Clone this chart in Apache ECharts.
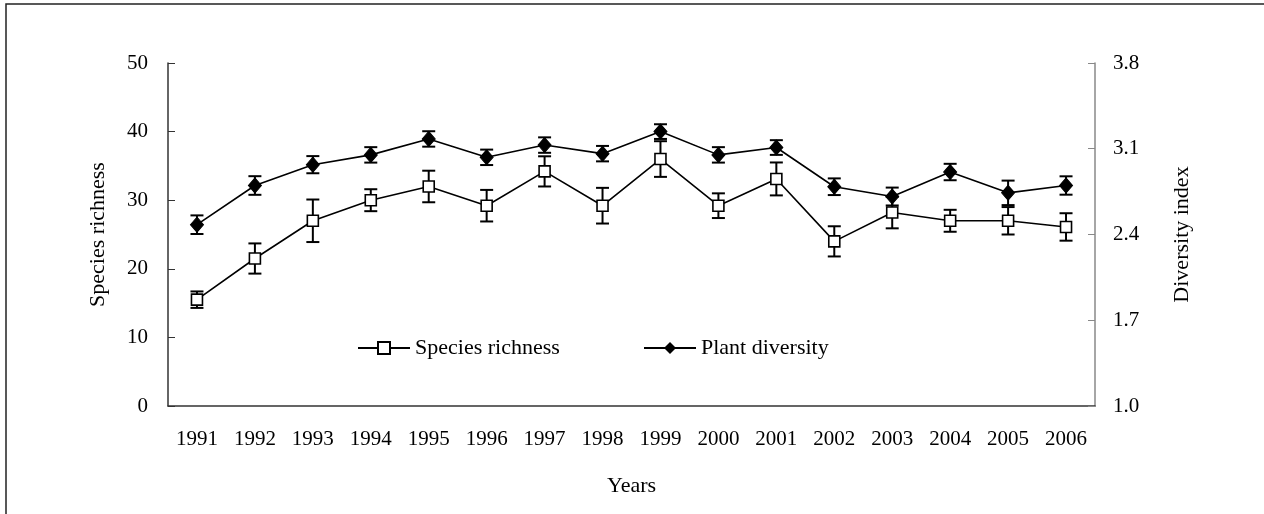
<!DOCTYPE html>
<html>
<head>
<meta charset="utf-8">
<script src="https://cdn.jsdelivr.net/npm/echarts@6/dist/echarts.min.js"></script>
<style>
  html, body { margin: 0; padding: 0; background: #fff; }
  #main { width: 1264px; height: 514px; }
</style>
</head>
<body>
<div id="main"></div>
<script>
var years = ['1991', '1992', '1993', '1994', '1995', '1996', '1997', '1998',
    '1999', '2000', '2001', '2002', '2003', '2004', '2005', '2006'];
var richness = [15.5, 21.5, 27.0, 30.0, 32.0, 29.2, 34.2, 29.2, 36.0, 29.2, 33.1, 24.0, 28.2, 27.0, 27.0, 26.1];
var richnessErr = [1.2, 2.2, 3.1, 1.6, 2.3, 2.3, 2.2, 2.6, 2.6, 1.8, 2.4, 2.2, 2.3, 1.6, 2.0, 2.0];
var diversity = [2.48, 2.80, 2.97, 3.05, 3.18, 3.03, 3.13, 3.06, 3.24, 3.05, 3.11, 2.79, 2.71, 2.91, 2.74, 2.80];
var diversityErr = [0.076, 0.076, 0.07, 0.063, 0.063, 0.063, 0.063, 0.063, 0.06, 0.063, 0.06, 0.068, 0.073, 0.067, 0.1, 0.075];

var font = "'Liberation Serif', 'Times New Roman', serif";

function errData(vals, errs) {
    return vals.map(function (v, i) {
        return [i, v - errs[i], v + errs[i]];
    });
}

function renderErr(params, api) {
    var x = api.value(0);
    var lo = api.coord([x, api.value(1)]);
    var hi = api.coord([x, api.value(2)]);
    var w = 6.5;
    var st = { stroke: '#000', lineWidth: 2 };
    return {
        type: 'group',
        children: [
            { type: 'line', shape: { x1: lo[0], y1: lo[1], x2: hi[0], y2: hi[1] }, style: st },
            { type: 'line', shape: { x1: lo[0] - w, y1: lo[1], x2: lo[0] + w, y2: lo[1] }, style: st },
            { type: 'line', shape: { x1: hi[0] - w, y1: hi[1], x2: hi[0] + w, y2: hi[1] }, style: st }
        ]
    };
}

var myChart = echarts.init(document.getElementById('main'));

var option = {
    backgroundColor: '#fff',
    animation: false,
    textStyle: { fontFamily: font },
    graphic: [{
        type: 'rect',
        shape: { x: 6, y: 4, width: 1300, height: 600 },
        style: { fill: 'none', stroke: '#222', lineWidth: 1.5 },
        silent: true
    }],
    grid: { left: 168, right: 169, top: 63, bottom: 108 },
    legend: [{
        left: 352, top: 332,
        itemWidth: 52, itemHeight: 15,
        textStyle: { fontFamily: font, fontSize: 22, color: '#000' },
        data: ['Species richness']
    }, {
        left: 638, top: 332,
        itemWidth: 52, itemHeight: 15,
        textStyle: { fontFamily: font, fontSize: 22, color: '#000' },
        data: ['Plant diversity']
    }],
    xAxis: {
        type: 'category',
        data: years,
        name: 'Years',
        nameLocation: 'middle',
        nameGap: 69,
        nameTextStyle: { fontFamily: font, fontSize: 22, color: '#000' },
        axisLine: { lineStyle: { color: '#333', width: 1.5 } },
        axisTick: { inside: true, length: 7, lineStyle: { color: '#333' } },
        axisLabel: { fontFamily: font, fontSize: 21, color: '#000', margin: 23 },
        splitLine: { show: false }
    },
    yAxis: [{
        type: 'value',
        min: 0, max: 50, interval: 10,
        name: 'Species richness',
        nameLocation: 'middle',
        nameRotate: 90,
        nameGap: 59,
        nameTextStyle: { fontFamily: font, fontSize: 22, color: '#000' },
        axisLine: { show: true, lineStyle: { color: '#333', width: 1.5 } },
        axisTick: { show: true, inside: true, length: 7, lineStyle: { color: '#333' } },
        axisLabel: { fontFamily: font, fontSize: 21, color: '#000', margin: 20 },
        splitLine: { show: false }
    }, {
        type: 'value',
        position: 'right',
        min: 1.0, max: 3.8, interval: 0.7,
        name: 'Diversity index',
        nameLocation: 'middle',
        nameRotate: 90,
        nameGap: 76,
        nameTextStyle: { fontFamily: font, fontSize: 22, color: '#000' },
        axisLine: { show: true, lineStyle: { color: '#888', width: 1.5 } },
        axisTick: { show: true, inside: true, length: 7, lineStyle: { color: '#888' } },
        axisLabel: {
            fontFamily: font, fontSize: 21, color: '#000', margin: 18,
            formatter: function (v) { return v.toFixed(1); }
        },
        splitLine: { show: false }
    }],
    series: [{
        name: 'richnessErr',
        type: 'custom',
        yAxisIndex: 0,
        renderItem: renderErr,
        encode: { x: 0, y: [1, 2] },
        data: errData(richness, richnessErr),
        z: 1
    }, {
        name: 'diversityErr',
        type: 'custom',
        yAxisIndex: 1,
        renderItem: renderErr,
        encode: { x: 0, y: [1, 2] },
        data: errData(diversity, diversityErr),
        z: 1
    }, {
        name: 'Species richness',
        type: 'line',
        yAxisIndex: 0,
        data: richness,
        symbol: 'rect',
        symbolSize: 11,
        showAllSymbol: true,
        lineStyle: { color: '#000', width: 1.6 },
        itemStyle: { color: '#fff', borderColor: '#000', borderWidth: 1.6 },
        z: 3
    }, {
        name: 'Plant diversity',
        type: 'line',
        yAxisIndex: 1,
        data: diversity,
        symbol: 'diamond',
        symbolSize: [13, 15],
        showAllSymbol: true,
        lineStyle: { color: '#000', width: 1.6 },
        itemStyle: { color: '#000', borderColor: '#000' },
        z: 3
    }]
};

myChart.setOption(option);
</script>
</body>
</html>
